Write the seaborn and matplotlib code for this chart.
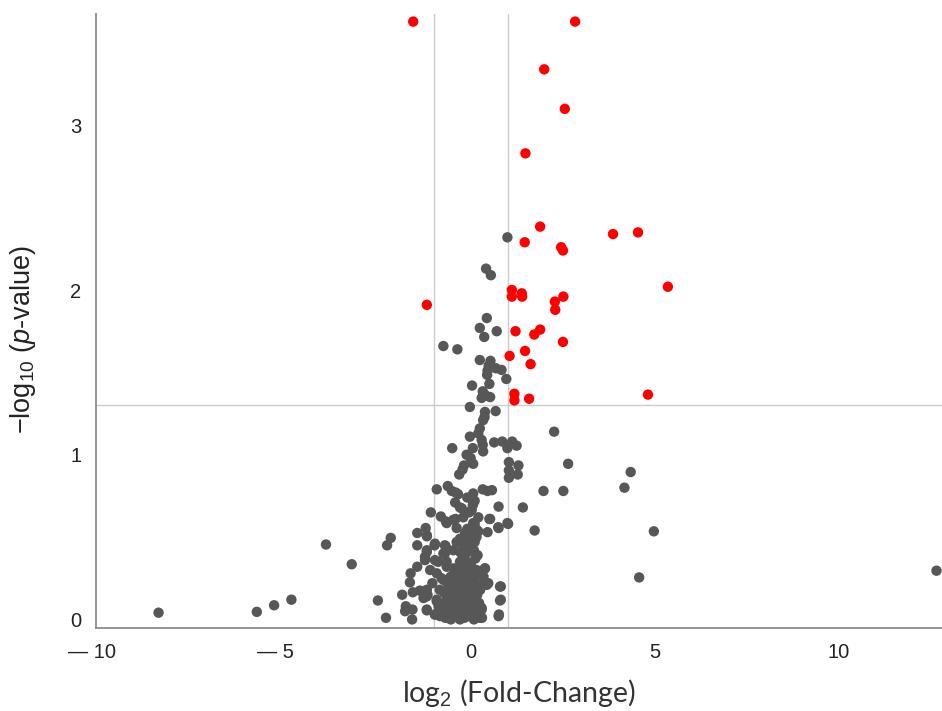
import numpy as np
import pandas as pd
import matplotlib
matplotlib.use('Agg')
import matplotlib.pyplot as plt
import matplotlib.transforms as mtransforms
import seaborn as sns

# significant genes (|log2FC| > 1 and p < 0.05)
red_x = [-1.57, 2.83, 1.99, 2.55, 1.48, 1.88, 3.86, 4.54, 1.46, 2.45, 2.50, 5.35,
         1.11, 1.11, 1.38, 1.39, -1.20, 2.51, 2.28, 2.29, 1.21, 1.88, 1.72, 2.50,
         1.47, 1.05, 1.62, 1.18, 1.18, 1.58, 4.81]
red_y = [3.63, 3.63, 3.34, 3.10, 2.83, 2.385, 2.34, 2.35, 2.29, 2.26, 2.24, 2.02,
         2.00, 1.96, 1.98, 1.96, 1.91, 1.96, 1.93, 1.88, 1.75, 1.76, 1.73, 1.685,
         1.63, 1.60, 1.55, 1.37, 1.33, 1.34, 1.365]

# non significant genes
gray_x = [0.99, 0.41, 0.54,
          0.43, 0.24, 0.70, 0.36, -0.75, -0.37,
          0.24, 0.53, 0.48, 0.68, 0.83, 0.45, 0.44, 0.96, 0.50, 0.03, 0.32, 0.29, 0.52, 0.40,
          -0.03, 0.67, 0.38, 0.37, 0.33, 0.24, 2.26, 0.20, -0.03, 0.29, 0.63, 0.85, 1.12, 1.24,
          0.99, 0.32, 0.33, -0.51, 0.05, -0.12, -0.01, 0.06, -0.19, -0.23, -0.32,
          1.03, 1.29, 1.03, 1.27, 1.03, 2.64, 4.34, 4.17, 4.57, 4.97, 12.65,
          1.97, 2.51, 1.41, 0.75, 1.01, 1.73,
          -0.93, -0.63, -0.52, -0.41, 0.06, 0.32, 0.57, 0.45,
          0.06, -0.43, -0.30, 0.02, -1.09, -0.82, -0.68, -0.42, -0.21, 0.52, 0.75, 0.45,
          0.15, -0.39, -0.16, -1.23, -1.46, -2.18, -2.28, -3.94, -3.24,
          -1.20, -1.46, -0.99, -0.69, -1.20, -1.25, -1.46, -1.64, -1.66, -1.87, -1.58, -1.39,
          -1.29, -1.18, -2.53, -2.31, -1.77, -1.79, -1.59, -1.60, -1.20, -0.98, -0.84, -0.93,
          0.79, 0.79, 0.75, 0.29, 0.43, 0.32, 0.38, 0.24,
          -0.93, -1.11, -0.89, -0.66, -0.75,
          -8.49, -5.82, -5.35, -4.88,
          0.05, -0.25, -0.66, -0.48, 0.06, 0.20, 0.50, 0.74, 0.99, -1.20, -0.98, -0.71,
          -0.39, 0.06, -1.20, -0.71, -0.48, -1.25, -0.98, -0.66, 0.38, 0.34, 0.47, 0.81,
          0.81, 0.76, -1.20, -1.20, -1.20, -0.98, -0.75, -0.93, 0.29, 0.24,
          # dense cluster around zero
          -0.70, -0.55, -0.42, -0.30, -0.18, -0.05, 0.08, 0.18, 0.30,
          -0.75, -0.60, -0.48, -0.35, -0.22, -0.10, 0.02, 0.14, 0.24,
          -0.68, -0.55, -0.40, -0.28, -0.15, -0.03, 0.10, 0.22,
          -0.72, -0.58, -0.45, -0.32, -0.20, -0.08, 0.05, 0.17,
          -0.62, -0.50, -0.38, -0.25, -0.12, 0.00, 0.12,
          -0.55, -0.42, -0.30, -0.18, -0.05, 0.08, 0.20,
          -0.48, -0.35, -0.22, -0.10, 0.03, 0.15,
          -0.30, -0.15, 0.00, 0.12, -0.25, -0.08, 0.08, 0.18,
          -0.20, -0.05, 0.10, -0.30, -0.12, 0.05, 0.15,
          -0.85, -0.80, -0.88, -1.05, -0.10, 0.10, -0.35,
          -0.62, -0.45, -0.25, -0.12, 0.00, -0.35, -0.50, -0.65, -0.15, 0.10, 0.25,
          -0.30, 0.00, -0.10, 0.10, 0.20, -0.05]
gray_y = [2.32, 2.13, 2.09,
          1.83, 1.77, 1.75, 1.715, 1.66, 1.64,
          1.575, 1.57, 1.54, 1.525, 1.515, 1.51, 1.485, 1.46, 1.43, 1.42, 1.385, 1.345, 1.35, 1.36,
          1.29, 1.265, 1.26, 1.23, 1.21, 1.16, 1.14, 1.13, 1.11, 1.09, 1.075, 1.08, 1.08, 1.055,
          1.04, 1.06, 1.02, 1.04, 1.04, 1.00, 0.98, 0.945, 0.935, 0.91, 0.88,
          0.955, 0.935, 0.905, 0.88, 0.86, 0.945, 0.895, 0.80, 0.255, 0.535, 0.296,
          0.78, 0.78, 0.68, 0.685, 0.58, 0.54,
          0.79, 0.81, 0.78, 0.77, 0.765, 0.79, 0.785, 0.78,
          0.705, 0.71, 0.68, 0.665, 0.65, 0.625, 0.595, 0.61, 0.62, 0.61, 0.555, 0.53,
          0.545, 0.555, 0.525, 0.555, 0.525, 0.495, 0.45, 0.455, 0.335,
          0.505, 0.45, 0.45, 0.445, 0.42, 0.38, 0.32, 0.28, 0.225, 0.15, 0.165, 0.175,
          0.13, 0.15, 0.115, 0.01, 0.08, 0.05, 0.06, 0.00, 0.055, 0.03, 0.02, 0.11,
          0.20, 0.115, 0.02, 0.06, 0.21, 0.21, 0.31, 0.27,
          0.28, 0.30, 0.35, 0.32, 0.40,
          0.041, 0.046, 0.086, 0.12,
          0.695, 0.675, 0.585, 0.605, 0.585, 0.535, 0.61, 0.56, 0.585, 0.51, 0.46, 0.45,
          0.47, 0.47, 0.41, 0.40, 0.42, 0.36, 0.36, 0.35, 0.31, 0.26, 0.22, 0.20,
          0.12, 0.03, 0.18, 0.14, 0.06, 0.03, 0.24, 0.12, 0.07, 0.01,
          0.01, 0.00, 0.02, 0.00, 0.01, 0.02, 0.00, 0.02, 0.01,
          0.06, 0.05, 0.07, 0.05, 0.06, 0.04, 0.06, 0.05, 0.07,
          0.11, 0.10, 0.12, 0.09, 0.11, 0.10, 0.12, 0.10,
          0.16, 0.15, 0.17, 0.14, 0.16, 0.15, 0.17, 0.15,
          0.21, 0.20, 0.22, 0.19, 0.21, 0.20, 0.22,
          0.26, 0.25, 0.27, 0.24, 0.26, 0.25, 0.27,
          0.31, 0.30, 0.32, 0.29, 0.31, 0.30,
          0.35, 0.36, 0.34, 0.37, 0.40, 0.41, 0.42, 0.39,
          0.45, 0.46, 0.47, 0.49, 0.50, 0.51, 0.50,
          0.18, 0.25, 0.08, 0.22, 0.74, 0.72, 0.76,
          0.03, 0.03, 0.03, 0.07, 0.13, 0.19, 0.13, 0.24, 0.28, 0.07, 0.18,
          0.41, 0.44, 0.55, 0.58, 0.62, 0.65]

x_ticks = [-10, -5, 0, 5, 10]
x_tick_labels = ['— 10', '— 5', '0', '5', '10']
y_ticks = [0, 1, 2, 3]

fc_cut = 1.0
p_cut = 1.3

df = pd.concat([
    pd.DataFrame({'fc': gray_x, 'p': gray_y, 'grp': 'ns'}),
    pd.DataFrame({'fc': red_x, 'p': red_y, 'grp': 'sig'}),
], ignore_index=True)

sns.set_style('white')
plt.rcParams['font.family'] = ['Liberation Sans', 'DejaVu Sans']
plt.rcParams['mathtext.fontset'] = 'custom'
plt.rcParams['mathtext.rm'] = 'Liberation Sans'
plt.rcParams['mathtext.it'] = 'Liberation Sans:italic'

fig = plt.figure(figsize=(9.42, 7.11), dpi=100)
ax = fig.add_axes([96 / 942, 1 - 628 / 711, 1 - 96 / 942, (628 - 14) / 711])

ax.axvline(-fc_cut, color='#cccccc', lw=1.0, zorder=1)
ax.axvline(fc_cut, color='#cccccc', lw=1.0, zorder=1)
ax.axhline(p_cut, color='#cccccc', lw=1.0, zorder=1)

sns.scatterplot(data=df, x='fc', y='p', hue='grp',
                palette={'ns': '#575757', 'sig': '#ff0000'},
                s=56, linewidth=0, legend=False, ax=ax, zorder=3)

ax.set_xlim(-10.19, 12.80)
ax.set_ylim(-0.052, 3.676)
ax.set_xticks(x_ticks)
ax.set_xticklabels(x_tick_labels)
ax.set_yticks(y_ticks)

sns.despine(ax=ax)
for side in ['left', 'bottom']:
    ax.spines[side].set_color('#8c8c8c')
    ax.spines[side].set_linewidth(1.3)
ax.tick_params(axis='both', direction='out', length=6.5, width=1.0,
               color='#8c8c8c', labelsize=14.5, labelcolor='#222222', pad=4)

# negative labels: keep the number on the tick, the dash hangs to the left
shift = mtransforms.ScaledTranslation(-8 / 72, 0, fig.dpi_scale_trans)
for lab in ax.get_xticklabels():
    if lab.get_text().startswith('—'):
        lab.set_transform(lab.get_transform() + shift)

ax.set_xlabel('log$_2$ (Fold-Change)', fontsize=20.5, family=['Lato', 'DejaVu Sans'],
              color='#333333', labelpad=11)
ax.set_ylabel('−log$_{10}$ ($\\it{p}$-value)', fontsize=19.5, color='#222222')
ax.yaxis.set_label_coords(-0.068, 0.47)

fig.savefig('out.png', dpi=100)
